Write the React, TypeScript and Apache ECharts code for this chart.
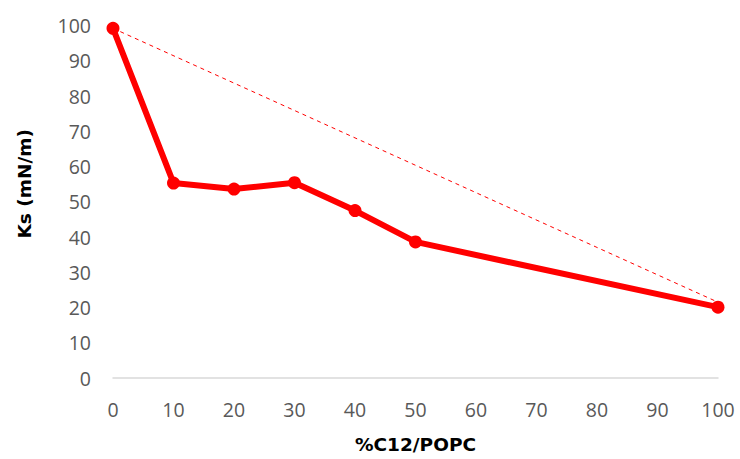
import React, { useEffect, useRef } from "react";
import * as echarts from "echarts";

const xValues = [0, 10, 20, 30, 40, 50, 100];
const ksValues = [99.2, 55.3, 53.6, 55.4, 47.5, 38.6, 20.1];
const idealX = [0, 100];
const idealKs = [99.2, 21.5];

export default function App() {
  const ref = useRef<HTMLDivElement>(null);
  useEffect(() => {
    if (!ref.current) return;
    const chart = echarts.init(ref.current, undefined, { renderer: "svg" });
    const labelFont = { color: "#595959", fontSize: 19.5, fontFamily: "Open Sans" };
    chart.setOption({
      animation: false,
      backgroundColor: "#ffffff",
      grid: { left: 113, right: 22, top: 25.5, bottom: 77.5, containLabel: false },
      xAxis: {
        type: "value",
        min: 0,
        max: 100,
        interval: 10,
        name: "%C12/POPC",
        nameLocation: "middle",
        nameGap: 57,
        nameTextStyle: { color: "#000", fontSize: 18.5, fontWeight: "bold", fontFamily: "DejaVu Sans" },
        axisLine: { show: true, lineStyle: { color: "#d9d9d9", width: 1.5 } },
        axisTick: { show: false },
        splitLine: { show: false },
        axisLabel: { ...labelFont, margin: 21 },
      },
      yAxis: {
        type: "value",
        min: 0,
        max: 100,
        interval: 10,
        name: "Ks (mN/m)",
        nameLocation: "middle",
        nameGap: 79,
        nameTextStyle: {
          color: "#000",
          fontSize: 18.5,
          fontWeight: "bold",
          fontFamily: "DejaVu Sans",
          padding: [0, 0, 0, 36],
        },
        axisLine: { show: false },
        axisTick: { show: false },
        splitLine: { show: false },
        axisLabel: { ...labelFont, margin: 22 },
      },
      series: [
        {
          type: "line",
          data: idealX.map((x, i) => [x, idealKs[i]]),
          showSymbol: false,
          symbol: "none",
          lineStyle: { color: "#ff0000", width: 1, type: [4, 4] },
          z: 1,
        },
        {
          type: "line",
          data: xValues.map((x, i) => [x, ksValues[i]]),
          symbol: "circle",
          symbolSize: 13,
          itemStyle: { color: "#ff0000" },
          lineStyle: { color: "#ff0000", width: 6 },
          z: 2,
        },
      ],
    });
    return () => chart.dispose();
  }, []);
  return (
    <div
      ref={ref}
      style={{ position: "absolute", left: 0, top: 0, width: 740, height: 459 }}
    />
  );
}
